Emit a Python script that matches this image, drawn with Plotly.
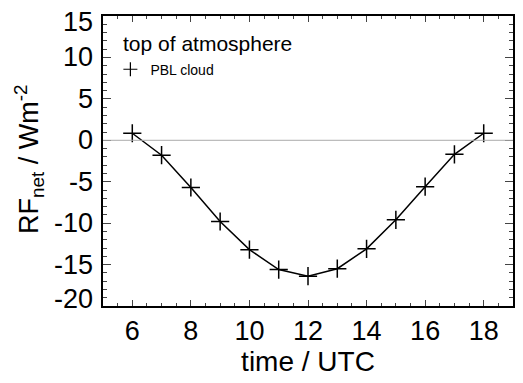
import plotly.graph_objects as go

# time of day (UTC) and net radiative forcing at top of atmosphere
hours = [6, 7, 8, 9, 10, 11, 12, 13, 14, 15, 16, 17, 18]
rf_net = [0.85, -1.8, -5.7, -9.8, -13.2, -15.6, -16.4, -15.5, -13.1, -9.6, -5.6, -1.7, 0.85]

x_ticks = [6, 8, 10, 12, 14, 16, 18]
y_ticks = [-20, -15, -10, -5, 0, 5, 10, 15]

FONT = "Liberation Sans, Arial, sans-serif"
TICK_SIZE = 27

fig = go.Figure()

fig.add_trace(
    go.Scatter(
        x=hours,
        y=rf_net,
        mode="lines",
        line=dict(color="black", width=1.5),
        showlegend=False,
        hoverinfo="skip",
    )
)

fig.add_trace(
    go.Scatter(
        x=hours,
        y=rf_net,
        mode="markers",
        showlegend=False,
        marker=dict(
            symbol="cross-thin",
            size=13,
            line=dict(color="black", width=1.5),
        ),
    )
)

# legend entry only (smaller symbol, like the original key)
fig.add_trace(
    go.Scatter(
        x=[None],
        y=[None],
        mode="markers",
        name="PBL cloud",
        marker=dict(
            symbol="cross-thin",
            size=10,
            line=dict(color="black", width=1.2),
        ),
    )
)

fig.add_hline(y=0, line_color="#aaaaaa", line_width=1)

fig.add_annotation(
    text="top of atmosphere",
    xref="paper",
    yref="paper",
    x=0.045,
    y=0.905,
    xanchor="left",
    yanchor="middle",
    showarrow=False,
    font=dict(size=21, color="black", family=FONT),
)

# y tick labels (end labels pulled inside like the original)
for v in y_ticks:
    shift = 0
    if v == max(y_ticks):
        shift = -6
    elif v == min(y_ticks):
        shift = 7
    fig.add_annotation(
        text=str(v),
        xref="paper",
        yref="y",
        x=0,
        y=v,
        xanchor="right",
        yanchor="middle",
        xshift=-8,
        yshift=shift,
        showarrow=False,
        font=dict(size=TICK_SIZE, color="black", family=FONT),
    )

fig.add_annotation(
    text="RF<sub>net</sub> / Wm<sup>-2</sup>",
    xref="paper",
    yref="paper",
    x=0,
    y=0.5,
    xanchor="center",
    yanchor="middle",
    xshift=-74,
    yshift=2,
    textangle=-90,
    showarrow=False,
    font=dict(size=27, color="black", family=FONT),
)

axis_common = dict(
    showline=True,
    linecolor="black",
    linewidth=1.5,
    mirror="ticks",
    ticks="inside",
    tickcolor="#444444",
    tickwidth=1.2,
    showgrid=False,
    zeroline=False,
    tickfont=dict(size=TICK_SIZE, color="black", family=FONT),
)

fig.update_xaxes(
    range=[5, 19],
    tickvals=x_ticks,
    ticktext=[str(v) for v in x_ticks],
    ticklen=6,
    minor=dict(dtick=0.5, ticks="inside", ticklen=3, tickcolor="#444444", tickwidth=1.2),
    title=dict(text="time / UTC", font=dict(size=28, color="black", family=FONT), standoff=0),
    **axis_common,
)

fig.update_yaxes(
    range=[-20, 15],
    tickvals=y_ticks,
    showticklabels=False,
    ticklen=8,
    minor=dict(dtick=1, ticks="inside", ticklen=4, tickcolor="#444444", tickwidth=1.2),
    **axis_common,
)

# the page body adds an 8px margin, so the figure is 8px smaller each way
fig.update_layout(
    width=515,
    height=375,
    margin=dict(l=95, r=10, t=6, b=77),
    plot_bgcolor="white",
    paper_bgcolor="white",
    font=dict(family=FONT, color="black"),
    legend=dict(
        x=0.018,
        y=0.815,
        xanchor="left",
        yanchor="middle",
        bgcolor="rgba(0,0,0,0)",
        font=dict(size=14, color="black", family=FONT),
        itemwidth=30,
    ),
)

fig.write_html("out.html")
